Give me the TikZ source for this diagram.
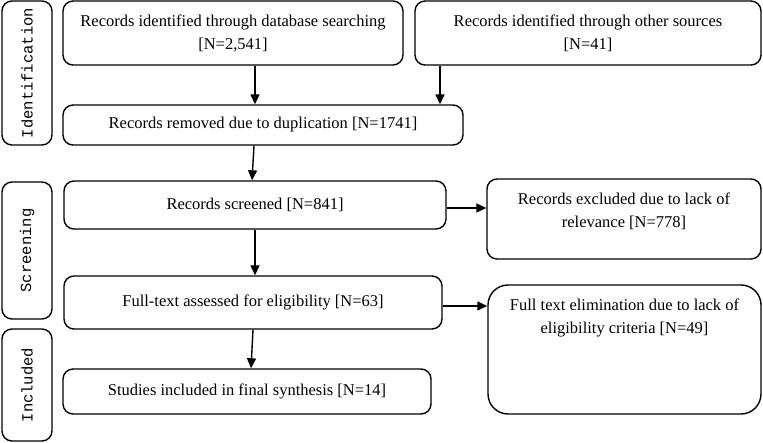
\documentclass[tikz,border=0pt]{standalone}
\usepackage{fontspec}
\setmainfont{Liberation Serif}
\newfontfamily\sidemono{Liberation Mono}
\usetikzlibrary{arrows.meta,calc}
\begin{document}
\begin{tikzpicture}[x=1pt,y=-1pt,
  box/.style={draw, line width=1.4pt, rounded corners=10pt, inner sep=0pt, align=center,
    font=\fontsize{16.5}{23}\selectfont},
  side/.style={draw, line width=1.4pt, rounded corners=10pt, inner sep=0pt, rotate=90,
    font=\sidemono\fontsize{15.5}{18}\selectfont},
  txt/.style={inner sep=0pt, align=center, font=\fontsize{16.5}{23}\selectfont},
  arr/.style={-{Triangle[length=10pt,width=9pt]}, line width=1.4pt}]
\useasboundingbox (0,0) rectangle (763,443);
% side labels
\node[side, minimum width=144pt, minimum height=50pt] (idside) at (27,73) {Identification};
\node[side, minimum width=137pt, minimum height=50pt] (scrside) at (27,250.5) {Screening};
\node[side, minimum width=112pt, minimum height=50pt] (incside) at (27,385) {Included};
% boxes
\node[box, minimum width=340pt, minimum height=64pt] (db) at (233,33)
  {Records identified through database searching\\\relax[N=2,541]};
\node[box, minimum width=346pt, minimum height=64pt] (other) at (588,33)
  {Records identified through other sources\\\relax[N=41]};
\node[box, minimum width=400pt, minimum height=40pt] (dup) at (263,125)
  {Records removed due to duplication [N=1741]};
\node[box, minimum width=382pt, minimum height=48pt] (scr) at (255,205)
  {Records screened [N=841]};
\node[box, minimum width=274pt, minimum height=80pt] (excl) at (624,219) {};
\node[txt] (excltxt) at ($(excl.center)+(0,-8)$)
  {Records excluded due to lack of\\relevance [N=778]};
\node[box, minimum width=378pt, minimum height=53pt] (full) at (253,302.5)
  {Full-text assessed for eligibility [N=63]};
\node[box, rounded corners=20pt, minimum width=273pt, minimum height=129pt] (elim) at (624.5,349.5) {};
\node[txt] (elimtxt) at ($(elim.center)+(0,-31.5)$)
  {Full text elimination due to lack of\\eligibility criteria [N=49]};
\node[box, minimum width=368pt, minimum height=45pt] (stud) at (247,391.5)
  {Studies included in final synthesis [N=14]};
% arrows
\draw[arr] ($(db.south)+(22,0)$) -- ($(dup.north)+(-8,0)$);
\draw[arr] ($(other.south)+(-148,0)$) -- ($(dup.north)+(177,0)$);
\draw[arr] ($(dup.south)+(-9,0)$) -- ($(scr.north)+(-3,0)$);
\draw[arr] (scr.south) -- ($(full.north)+(2,0)$);
\draw[arr] (full.south) -- ($(stud.north)+(4,0)$);
\draw[arr] ($(scr.east)+(0,3)$) -- ($(excl.west)+(0,-11)$);
\draw[arr] ($(full.east)+(0,3.5)$) -- ($(elim.west)+(0,-43.5)$);
\end{tikzpicture}
\end{document}
